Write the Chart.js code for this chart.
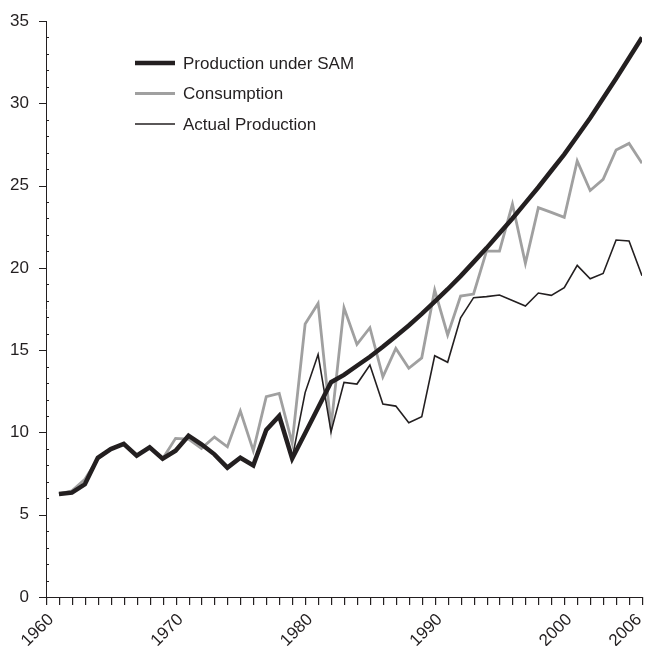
<!DOCTYPE html>
<html lang="en">
<head>
    <meta charset="UTF-8">
    <title>Production under SAM</title>
    <script src="https://cdn.jsdelivr.net/npm/chart.js"></script>
    <style>
        body { margin: 0; background: #fff; }
        #wrap { width: 645px; height: 646px; }
    </style>
</head>
<body>
    <div id="wrap"><canvas id="chart" width="645" height="646"></canvas></div>

    <script>
        // values
        const years = [1961, 1962, 1963, 1964, 1965, 1966, 1967, 1968, 1969, 1970,
            1971, 1972, 1973, 1974, 1975, 1976, 1977, 1978, 1979, 1980,
            1981, 1982, 1983, 1984, 1985, 1986, 1987, 1988, 1989, 1990,
            1991, 1992, 1993, 1994, 1995, 1996, 1997, 1998, 1999, 2000,
            2001, 2002, 2003, 2004, 2005, 2006];

        const samProduction = [6.26, 6.34, 6.85, 8.46, 8.99, 9.3, 8.59, 9.09, 8.4, 8.89,
            9.8, 9.28, 8.67, 7.86, 8.46, 8.0, 10.15, 11.0, 8.42, 9.95,
            11.5, 13.05, 13.5, 14.05, 14.6, 15.2, 15.85, 16.5, 17.2, 17.95,
            18.7, 19.5, 20.35, 21.2, 22.1, 23.0, 23.95, 24.9, 25.9, 26.9,
            28.0, 29.1, 30.3, 31.5, 32.75, 34.0];

        const consumption = [6.26, 6.45, 7.15, 8.4, 8.99, 9.3, 8.59, 9.09, 8.4, 9.64,
            9.6, 9.03, 9.72, 9.13, 11.3, 8.89, 12.17, 12.37, 9.35, 16.59,
            17.84, 10.35, 17.58, 15.35, 16.36, 13.38, 15.1, 13.9, 14.53, 18.65,
            15.92, 18.29, 18.41, 21.02, 21.02, 23.88, 20.27, 23.66, 23.37, 23.07,
            26.49, 24.7, 25.38, 27.16, 27.56, 26.35];

        const actualProduction = [6.26, 6.34, 6.85, 8.46, 8.99, 9.3, 8.59, 9.09, 8.4, 8.89,
            9.8, 9.28, 8.67, 7.86, 8.46, 8.0, 10.15, 11.0, 8.42, 12.42,
            14.74, 10.04, 13.04, 12.94, 14.1, 11.73, 11.6, 10.59, 10.95, 14.66,
            14.26, 16.97, 18.19, 18.25, 18.35, 18.02, 17.68, 18.47, 18.33, 18.79,
            20.15, 19.34, 19.66, 21.69, 21.63, 19.52];

        const yearTicks = [1960, 1961, 1962, 1963, 1964, 1965, 1966, 1967, 1968, 1969,
            1970, 1971, 1972, 1973, 1974, 1975, 1976, 1977, 1978, 1979,
            1980, 1981, 1982, 1983, 1984, 1985, 1986, 1987, 1988, 1989,
            1990, 1991, 1992, 1993, 1994, 1995, 1996, 1997, 1998, 1999,
            2000, 2001, 2002, 2003, 2004, 2005, 2006];
        const yearLabels = [1960, 1970, 1980, 1990, 2000, 2006];

        const ink = '#231f20';
        const grey = '#a0a0a0';
        const fontFamily = '"Liberation Sans", Arial, Helvetica, sans-serif';

        function points(values) {
            return values.map((v, i) => ({ x: years[i], y: v }));
        }

        // axis ticks, rotated year labels and the legend inside the plot
        const extras = {
            id: 'extras',
            afterDraw(chart) {
                const ctx = chart.ctx;
                const area = chart.chartArea;
                const x = chart.scales.x;
                const y = chart.scales.y;
                ctx.save();

                ctx.fillStyle = ink;
                // y: long ticks out every 5, short ticks in every 1
                for (let v = y.min; v <= y.max; v++) {
                    const py = Math.round(y.getPixelForValue(v));
                    if (v % 5 === 0) {
                        ctx.fillRect(area.left - 7, py, 7, 1);
                    } else {
                        ctx.fillRect(area.left, py, 3, 1);
                    }
                }
                // x: a tick every year
                yearTicks.forEach(v => {
                    const px = Math.round(x.getPixelForValue(v));
                    ctx.fillRect(px, area.bottom, 1.2, 8);
                });

                ctx.font = '17px ' + fontFamily;
                ctx.textAlign = 'right';
                ctx.textBaseline = 'middle';
                yearLabels.forEach(v => {
                    const ax = Math.min(x.getPixelForValue(v) + 5, chart.width - 6);
                    ctx.save();
                    ctx.translate(ax, area.bottom + 20);
                    ctx.rotate(-Math.PI / 4);
                    ctx.fillText(String(v), 0, 0);
                    ctx.restore();
                });

                ctx.textAlign = 'left';
                chart.data.datasets.forEach((ds, i) => {
                    const ly = area.top + 42 + i * 30.5;
                    const lx = area.left + 89;
                    ctx.strokeStyle = ds.borderColor;
                    ctx.lineWidth = ds.borderWidth;
                    ctx.beginPath();
                    ctx.moveTo(lx, ly);
                    ctx.lineTo(lx + 40, ly);
                    ctx.stroke();
                    ctx.fillText(ds.label, lx + 48, ly + 1);
                });
                ctx.restore();
            }
        };

        new Chart(document.getElementById('chart'), {
            type: 'line',
            data: {
                datasets: [{
                    label: 'Production under SAM',
                    data: points(samProduction),
                    borderColor: ink,
                    borderWidth: 4.5,
                    order: 0
                }, {
                    label: 'Consumption',
                    data: points(consumption),
                    borderColor: grey,
                    borderWidth: 2.8,
                    order: 2
                }, {
                    label: 'Actual Production',
                    data: points(actualProduction),
                    borderColor: ink,
                    borderWidth: 1.6,
                    order: 1
                }]
            },
            options: {
                responsive: false,
                animation: false,
                events: [],
                layout: { padding: { top: 21, right: 3, left: 0, bottom: 0 } },
                elements: {
                    point: { radius: 0 },
                    line: { tension: 0, borderJoinStyle: 'miter', fill: false }
                },
                plugins: {
                    legend: { display: false },
                    tooltip: { enabled: false }
                },
                scales: {
                    x: {
                        type: 'linear',
                        min: 1960,
                        max: 2006,
                        afterBuildTicks: (scale) => {
                            scale.ticks = yearTicks.map(v => ({ value: v }));
                        },
                        afterFit: (scale) => {
                            scale.height = 49;
                            scale.paddingLeft = 0;
                            scale.paddingRight = 0;
                        },
                        grid: {
                            drawOnChartArea: false,
                            drawTicks: true,
                            tickLength: 7,
                            color: 'rgba(0,0,0,0)'
                        },
                        border: { display: true, color: ink, width: 1 },
                        ticks: { display: false }
                    },
                    y: {
                        min: 0,
                        max: 35,
                        afterFit: (scale) => { scale.width = 46; },
                        grid: {
                            drawOnChartArea: false,
                            drawTicks: true,
                            tickLength: 7,
                            color: 'rgba(0,0,0,0)'
                        },
                        border: { display: true, color: ink, width: 1 },
                        ticks: {
                            stepSize: 5,
                            padding: 10,
                            color: ink,
                            font: { family: fontFamily, size: 17 }
                        }
                    }
                }
            },
            plugins: [extras]
        });
    </script>
</body>
</html>
